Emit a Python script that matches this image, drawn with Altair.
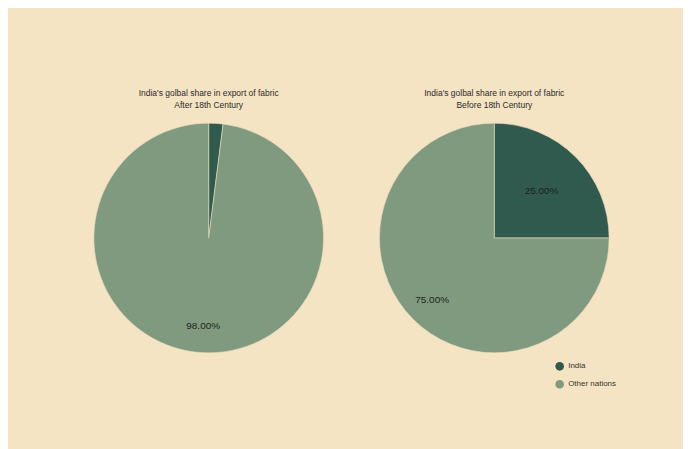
import altair as alt
import pandas as pd

categories = ["India", "Other nations"]
after_values = [2, 98]
before_values = [25, 75]
title_line1 = "India's golbal share in export of fabric"
subtitle_after = "After 18th Century"
subtitle_before = "Before 18th Century"

colors = ["#2f5a4d", "#809a7f"]


def make_df(values):
    return pd.DataFrame({
        "country": categories,
        "share": values,
        "order": list(range(len(categories))),
        "label": [f"{v:.2f}%" for v in values],
    })


legend = alt.Legend(
    title=None, orient="none", legendX=462, legendY=239,
    symbolType="circle", symbolSize=75, labelFontSize=8,
    labelColor="#333333", rowPadding=9, symbolStrokeWidth=0,
    labelFont="Liberation Sans",
)


def pie(values, subtitle):
    df = make_df(values)
    base = alt.Chart(df).encode(
        theta=alt.Theta("share:Q", stack=True),
        order=alt.Order("order:Q"),
    )
    arcs = base.mark_arc(outerRadius=115, stroke="#e9dcc0", strokeWidth=0.6).encode(
        color=alt.Color("country:N", scale=alt.Scale(domain=categories, range=colors),
                        legend=legend)
    )
    text_style = dict(fontSize=10, color="#1f1f1f", font="Liberation Sans")
    text_india = base.mark_text(radius=67, **text_style).encode(
        text="label:N",
        opacity=alt.condition("datum.country == 'India' && datum.share >= 5",
                              alt.value(1), alt.value(0)),
    )
    text_other = base.mark_text(radius=88, **text_style).encode(
        text="label:N",
        opacity=alt.condition("datum.country != 'India' && datum.share >= 5",
                              alt.value(1), alt.value(0)),
    )
    return (arcs + text_india + text_other).properties(
        width=230, height=230,
        title=alt.TitleParams(
            text=[title_line1, subtitle], fontSize=8.5, fontWeight="normal",
            color="#2a2a2a", font="Liberation Sans", lineHeight=13, offset=12,
            anchor="middle",
        ),
    )


chart = alt.hconcat(
    pie(after_values, subtitle_after),
    pie(before_values, subtitle_before),
    spacing=52,
).properties(
    background="#f5e4c4",
    padding={"left": 84, "top": 80, "right": 66, "bottom": 76},
).configure_view(stroke=None)

chart.save("out.html", embed_options={"renderer": "svg", "actions": False})
